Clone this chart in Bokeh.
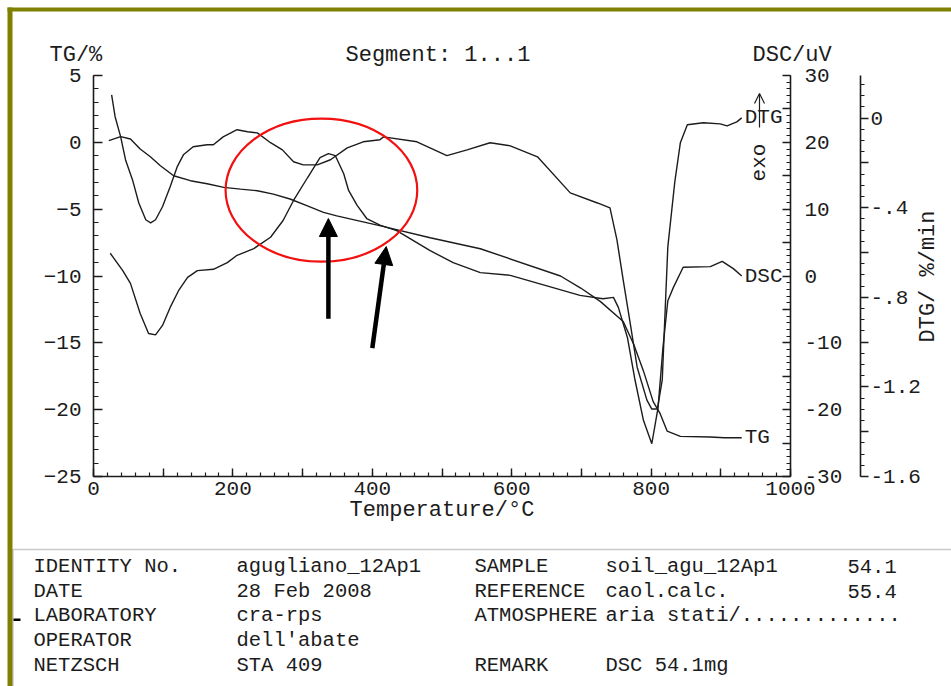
import numpy as np
from bokeh.plotting import figure
from bokeh.models import (Range1d, LinearAxis, SingleIntervalTicker, FixedTicker,
                          Label, Arrow, NormalHead, OpenHead, BoxAnnotation)
from bokeh.core.properties import value
from bokeh.embed import file_html
from bokeh.resources import INLINE

# ---------------- data ----------------
temp_tg = [22, 39, 53, 67, 82, 96, 115, 139, 163, 187, 211, 235, 258, 282, 306, 330,
           349, 412, 483, 555, 670, 699, 727, 760, 775, 789, 803, 813, 823, 842, 885,
           905, 930]
tg = [0.13, 0.43, 0.25, -0.5, -1.1, -1.75, -2.5, -2.87, -3.1, -3.37, -3.5, -3.62,
      -3.87, -4.24, -4.74, -5.24, -5.5, -6.25, -7.14, -7.96, -10.0, -10.9, -11.9,
      -13.4, -15.1, -17.1, -19.4, -20.3, -21.6, -22.0, -22.05, -22.1, -22.1]

temp_dsc = [24, 42, 53, 67, 79, 89, 99, 110, 122, 135, 149, 172, 192, 206, 230, 254,
            272, 287, 307, 325, 337, 347, 359, 366, 378, 392, 411, 435, 483, 516, 555,
            598, 698, 731, 746, 753, 766, 777, 789, 801, 810, 817, 824, 832, 846, 885,
            902, 918, 930]
dsc = [3.4, 0.8, -1.1, -5.6, -8.6, -8.8, -7.4, -4.7, -2.2, -0.2, 0.8, 1.0, 2.0, 3.1,
       4.1, 5.8, 8.3, 11.3, 14.7, 17.7, 18.3, 18.0, 15.3, 12.8, 10.6, 8.6, 7.6, 6.8,
       3.8, 2.0, 0.5, 0.1, -2.9, -3.4, -3.2, -4.7, -9.2, -15.6, -21.6, -25.1, -19.7,
       -10.7, -3.7, -1.7, 1.3, 1.4, 2.2, 1.1, 0.0]

temp_dtg = [26, 31, 39, 46, 56, 65, 75, 82, 89, 99, 110, 120, 129, 143, 163, 172, 186,
            206, 221, 235, 254, 271, 287, 301, 321, 340, 364, 387, 411, 416, 464, 507,
            536, 569, 598, 637, 684, 723, 741, 751, 760, 770, 780, 794, 801, 809, 816,
            820, 824, 834, 842, 852, 875, 899, 909, 923, 930]
dtg = [0.104, 0.006, -0.084, -0.187, -0.276, -0.379, -0.454, -0.468, -0.454, -0.396,
       -0.307, -0.218, -0.164, -0.128, -0.119, -0.119, -0.084, -0.052, -0.061, -0.066,
       -0.110, -0.142, -0.195, -0.209, -0.209, -0.186, -0.133, -0.106, -0.097, -0.084,
       -0.106, -0.168, -0.142, -0.110, -0.124, -0.173, -0.334, -0.379, -0.401, -0.544,
       -0.723, -0.915, -1.112, -1.259, -1.299, -1.299, -1.169, -0.870, -0.575, -0.285,
       -0.110, -0.030, -0.021, -0.026, -0.035, -0.017, 0.001]

curve_names = ["TG", "DSC", "DTG"]

# long ticks; the ones with an empty label are the unlabeled long ticks
x_ticks = [0, 100, 200, 300, 400, 500, 600, 700, 800, 900, 1000]
x_tick_labels = ["0", "", "200", "", "400", "", "600", "", "800", "", "1000"]
dsc_ticks = [-30, -25, -20, -15, -10, -5, 0, 5, 10, 15, 20, 25, 30]
dsc_tick_labels = ["-30", "", "-20", "", "-10", "", "0", "", "10", "", "20", "", "30"]
dtg_ticks = [0, -0.2, -0.4, -0.6, -0.8, -1.0, -1.2, -1.4, -1.6]
dtg_tick_labels = ["0", "", "-.4", "", "-.8", "", "-1.2", "", "-1.6"]

info_rows = [
    ["IDENTITY No.", "agugliano_12Ap1", "SAMPLE", "soil_agu_12Ap1", "54.1"],
    ["DATE", "28 Feb 2008", "REFERENCE", "caol.calc.", "55.4"],
    ["LABORATORY", "cra-rps", "ATMOSPHERE", "aria stati/.............", ""],
    ["OPERATOR", "dell'abate", "", "", ""],
    ["NETZSCH", "STA 409", "REMARK", "DSC 54.1mg", ""],
]

# highlighted region (ellipse) and arrows, in data units (°C, TG %)
ellipse_center = (327, -3.58)
ellipse_size = (275, 10.7)
arrows = [((337, -13.2), (337, -5.7)), ((400, -15.4), (420, -7.8))]

# ---------------- layout / style ----------------
FONT = "Liberation Mono"
INK = "#1c1c1c"
OLIVE = "#808000"
W, H = 951, 686
FL, FR, FT, FB = 93, 790, 75, 476          # plot box on the page (px)
DTG_AXIS_PX = 860                          # second right axis position (px)
X_RANGE = (0, 1000)
TG_RANGE = (-25, 5)
DSC_RANGE = (-30, 30)
DTG_RANGE = (-1.6, 0.19)


def ux(px):
    return X_RANGE[0] + (px - FL) * (X_RANGE[1] - X_RANGE[0]) / (FR - FL)


def vy(py, rng):
    lo, hi = rng
    return hi - (py - FT) * (hi - lo) / (FB - FT)


def uy(py):
    return vy(py, TG_RANGE)


def page_range(rng):
    return Range1d(vy(H, rng), vy(0, rng))


# the frame covers the whole page so that every annotation is drawn
p = figure(width=W, height=H, x_range=Range1d(ux(0), ux(W)), y_range=page_range(TG_RANGE),
           output_backend="svg", toolbar_location=None,
           x_axis_location=None, y_axis_location=None, min_border=0)
p.extra_y_ranges = {"dsc": page_range(DSC_RANGE), "dtg": page_range(DTG_RANGE)}
p.outline_line_color = None
p.grid.visible = False
p.background_fill_color = "white"
p.border_fill_color = "white"


def style_axis(ax):
    ax.axis_line_color = INK
    ax.axis_line_width = 1.6
    ax.major_tick_line_color = INK
    ax.minor_tick_line_color = INK
    ax.major_tick_line_width = 1.4
    ax.minor_tick_line_width = 1.2
    ax.major_label_text_font = FONT
    ax.major_label_text_font_size = "21px"
    ax.major_label_text_color = INK
    ax.axis_label_text_font = FONT
    ax.axis_label_text_font_style = "normal"
    ax.axis_label_text_color = INK
    ax.axis_label_text_font_size = "22px"


xa = LinearAxis(fixed_location=TG_RANGE[0], bounds=X_RANGE,
                ticker=FixedTicker(ticks=x_ticks, minor_ticks=list(range(0, 1001, 20))),
                major_label_overrides=dict(zip(x_ticks, x_tick_labels)))
style_axis(xa)
xa.major_tick_in, xa.major_tick_out = 8, 0
xa.minor_tick_in, xa.minor_tick_out = 4, 0
xa.major_label_standoff = 5
xa.axis_label = "Temperature/°C"
xa.axis_label_standoff = 0
p.add_layout(xa, "below")

ya = LinearAxis(fixed_location=X_RANGE[0], bounds=TG_RANGE,
                ticker=SingleIntervalTicker(interval=5, num_minor_ticks=5))
style_axis(ya)
ya.major_tick_in, ya.major_tick_out = 9, 0
ya.minor_tick_in, ya.minor_tick_out = 5, 0
ya.major_label_standoff = 12
p.add_layout(ya, "left")

dsc_ax = LinearAxis(y_range_name="dsc", fixed_location=X_RANGE[1], bounds=DSC_RANGE,
                    ticker=FixedTicker(ticks=dsc_ticks, minor_ticks=list(range(-30, 31))),
                    major_label_overrides=dict(zip(dsc_ticks, dsc_tick_labels)))
style_axis(dsc_ax)
dsc_ax.major_tick_in, dsc_ax.major_tick_out = 8, 0
dsc_ax.minor_tick_in, dsc_ax.minor_tick_out = 4, 0
dsc_ax.major_label_standoff = 14
p.add_layout(dsc_ax, "right")

dtg_minor = [round(v, 2) for v in np.arange(-1.6, 0.19, 0.05)]
dtg_ax = LinearAxis(y_range_name="dtg", fixed_location=ux(DTG_AXIS_PX), bounds=DTG_RANGE,
                    ticker=FixedTicker(ticks=dtg_ticks, minor_ticks=dtg_minor),
                    major_label_overrides=dict(zip(dtg_ticks, dtg_tick_labels)))
style_axis(dtg_ax)
dtg_ax.major_tick_in, dtg_ax.major_tick_out = 0, 8
dtg_ax.minor_tick_in, dtg_ax.minor_tick_out = 0, 4
dtg_ax.major_label_standoff = 2
p.add_layout(dtg_ax, "right")
p.add_layout(Label(x=ux(928), y=uy(276), text="DTG/ %/min", angle=np.pi / 2,
                   text_align="center", text_baseline="middle", text_font=FONT,
                   text_font_size="22px", text_color=INK))

# ---------------- curves ----------------
series = [(temp_tg, tg, "default"), (temp_dsc, dsc, "dsc"), (temp_dtg, dtg, "dtg")]
for (tx, ty, rng), name in zip(series, curve_names):
    p.line(tx, ty, y_range_name=rng, line_color=INK, line_width=1.4)
    p.text(x=[tx[-1]], y=[ty[-1]], text=[name], y_range_name=rng, x_offset=3,
           text_baseline="middle", text_align="left", text_color=INK,
           text_font=value(FONT), text_font_size="21px")

# ---------------- highlight annotations ----------------
p.ellipse(x=[ellipse_center[0]], y=[ellipse_center[1]], width=[ellipse_size[0]],
          height=[ellipse_size[1]], fill_color=None, line_color="#f21010", line_width=2.2)
for (x0, y0), (x1, y1) in arrows:
    p.add_layout(Arrow(x_start=x0, y_start=y0, x_end=x1, y_end=y1, line_width=4.5,
                       line_color="black",
                       end=NormalHead(size=18, fill_color="black", line_color="black")))

# "exo" direction marker
p.add_layout(Arrow(x_start=ux(759), y_start=uy(127), x_end=ux(759), y_end=uy(93),
                   line_width=1.2, line_color=INK,
                   end=OpenHead(size=10, line_width=1.2, line_color=INK)))
p.add_layout(Label(x=ux(759), y=uy(162), text="exo", angle=np.pi / 2,
                   text_align="center", text_baseline="middle", text_font=FONT,
                   text_font_size="21px", text_color=INK))

# header texts
for px, txt in [(49, "TG/%"), (345, "Segment: 1...1"), (752, "DSC/uV")]:
    p.add_layout(Label(x=ux(px), y=uy(55), text=txt, text_align="left",
                       text_baseline="middle", text_font=FONT, text_font_size="22px",
                       text_color=INK))

# ---------------- page frame and info box ----------------
p.add_layout(BoxAnnotation(left=ux(7), right=ux(W + 20), top=uy(7), bottom=uy(11),
                           fill_color=OLIVE, fill_alpha=1, line_alpha=0))
p.add_layout(BoxAnnotation(left=ux(7), right=ux(12), top=uy(7), bottom=uy(H + 20),
                           fill_color=OLIVE, fill_alpha=1, line_alpha=0))
p.add_layout(BoxAnnotation(left=ux(12.5), right=ux(W + 30), top=uy(549), bottom=uy(H + 30),
                           fill_alpha=0, line_color="#505050", line_width=1.5))
p.add_layout(BoxAnnotation(left=ux(13), right=ux(20), top=uy(618), bottom=uy(620.5),
                           fill_color="black", fill_alpha=1, line_alpha=0))

col_px = [33, 236, 474, 605, 847]
for i, row in enumerate(info_rows):
    py = 566 + 24.7 * i
    for cx, txt in zip(col_px, row):
        if txt:
            p.add_layout(Label(x=ux(cx), y=uy(py), text=txt, text_align="left",
                               text_baseline="middle", text_font=FONT,
                               text_font_size="20.5px", text_color=INK))

open("out.html", "w").write(file_html(p, INLINE))
